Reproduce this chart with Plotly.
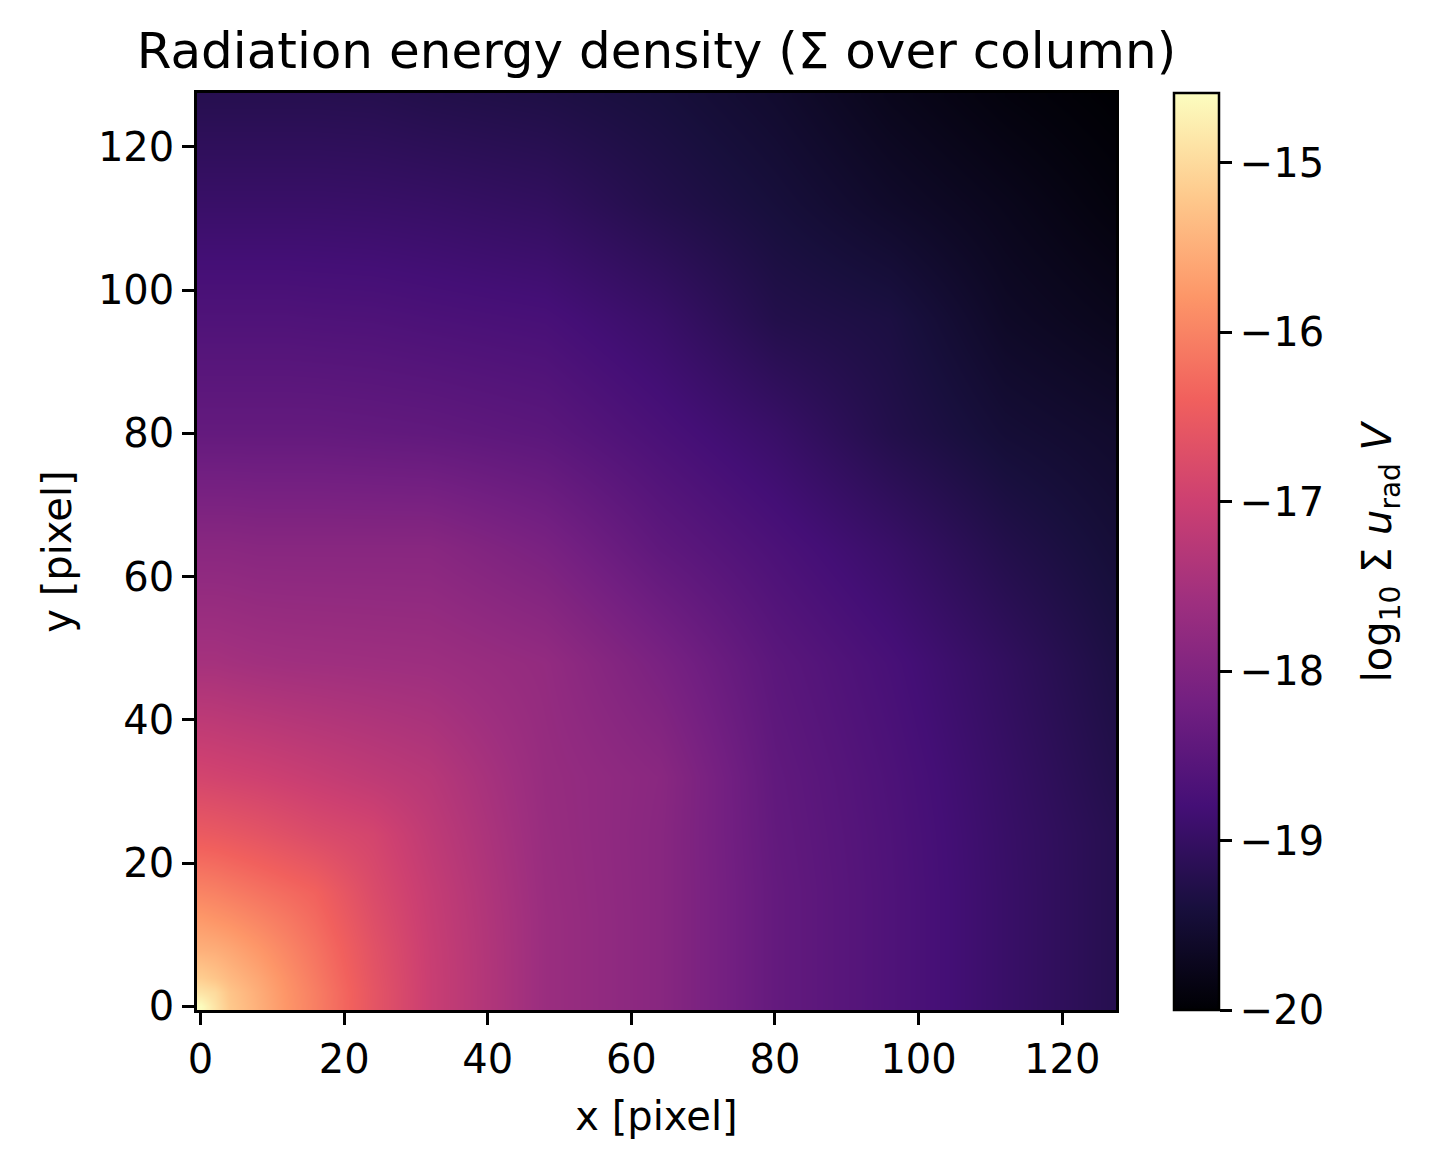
import plotly.graph_objects as go

xs = [0, 2, 4, 8, 12, 16, 24, 32, 48, 64, 80, 96, 112, 127]
ys = [0, 2, 4, 8, 12, 16, 24, 32, 48, 64, 80, 96, 112, 127]

# log10 sum u_rad V, one row per y in ys
row_y0 = [-14.60, -14.90, -15.20, -15.50, -15.80, -16.05, -16.60, -17.05, -17.65, -17.90, -18.38, -18.65, -18.95, -19.20]
row_y2 = [-14.90, -15.00, -15.25, -15.53, -15.82, -16.06, -16.60, -17.05, -17.65, -17.90, -18.38, -18.65, -18.95, -19.20]
row_y4 = [-15.15, -15.25, -15.38, -15.60, -15.86, -16.10, -16.62, -17.05, -17.65, -17.90, -18.38, -18.65, -18.95, -19.20]
row_y8 = [-15.50, -15.53, -15.60, -15.78, -15.98, -16.18, -16.66, -17.06, -17.65, -17.90, -18.38, -18.65, -18.95, -19.20]
row_y12 = [-15.75, -15.80, -15.85, -15.98, -16.12, -16.28, -16.72, -17.08, -17.65, -17.90, -18.38, -18.65, -18.95, -19.20]
row_y16 = [-16.00, -16.03, -16.08, -16.18, -16.28, -16.38, -16.78, -17.10, -17.66, -17.90, -18.38, -18.65, -18.95, -19.20]
row_y24 = [-16.50, -16.52, -16.55, -16.62, -16.70, -16.78, -16.90, -17.18, -17.68, -17.90, -18.40, -18.66, -18.96, -19.20]
row_y32 = [-16.90, -16.92, -16.94, -16.98, -17.03, -17.08, -17.18, -17.28, -17.70, -17.88, -18.42, -18.68, -18.98, -19.25]
row_y48 = [-17.50, -17.50, -17.52, -17.55, -17.57, -17.58, -17.60, -17.62, -17.75, -18.10, -18.50, -18.75, -19.05, -19.33]
row_y64 = [-17.88, -17.88, -17.88, -17.90, -17.90, -17.90, -17.90, -17.90, -18.10, -18.45, -18.70, -18.95, -19.25, -19.45]
row_y80 = [-18.38, -18.38, -18.38, -18.38, -18.38, -18.38, -18.40, -18.42, -18.50, -18.72, -18.95, -19.25, -19.47, -19.57]
row_y96 = [-18.65, -18.65, -18.65, -18.65, -18.65, -18.66, -18.67, -18.70, -18.75, -18.95, -19.25, -19.35, -19.63, -19.75]
row_y112 = [-18.95, -18.95, -18.95, -18.95, -18.95, -18.95, -18.96, -18.98, -19.05, -19.25, -19.42, -19.60, -19.75, -19.90]
row_y127 = [-19.20, -19.20, -19.20, -19.20, -19.20, -19.20, -19.21, -19.25, -19.30, -19.40, -19.55, -19.75, -19.90, -20.00]

z = [row_y0, row_y2, row_y4, row_y8, row_y12, row_y16, row_y24, row_y32,
     row_y48, row_y64, row_y80, row_y96, row_y112, row_y127]

cbar_ticks = [-20, -19, -18, -17, -16, -15]
axis_ticks = [0, 20, 40, 60, 80, 100, 120]

font = 'DejaVu Sans'
fsize = 40

fig = go.Figure()
fig.add_trace(go.Heatmap(
    x=xs, y=ys, z=z,
    zsmooth='best',
    colorscale='Magma',
    zmin=-20, zmax=-14.59,
    colorbar=dict(
        x=1.063, xanchor='left', xpad=0, ypad=0,
        y=0.5, yanchor='middle', len=1,
        thickness=45,
        outlinecolor='black', outlinewidth=2.5,
        tickvals=cbar_ticks,
        ticktext=['\u2212' + str(abs(t)) for t in cbar_ticks],
        ticks='outside', ticklen=12, tickwidth=2.5, tickcolor='black',
        tickfont=dict(family=font, size=fsize, color='black'),
    ),
))

# colorbar label as a rotated annotation so it can sit where the reference has it
fig.add_annotation(
    text='log<sub>10</sub> \u03a3 <i>u</i><sub>rad</sub> <i>V</i>',
    xref='paper', yref='paper', x=1.287, y=0.5,
    xanchor='center', yanchor='middle', textangle=-90, showarrow=False,
    font=dict(family=font, size=fsize, color='black'),
)

axis_style = dict(
    range=[-0.5, 127.5],
    tickvals=axis_ticks,
    ticks='outside', ticklen=12, tickwidth=2.5, tickcolor='black',
    showline=True, linecolor='black', linewidth=2.5, mirror=True,
    showgrid=False, zeroline=False,
    tickfont=dict(family=font, size=fsize, color='black'),
)

fig.update_layout(
    width=1414, height=1154,
    margin=dict(l=189, r=306, t=85, b=152),
    paper_bgcolor='white', plot_bgcolor='white',
    title=dict(text='Radiation energy density (\u03a3 over column)',
               x=0.5, xref='paper', xanchor='center',
               y=1 - 42 / 1154, yref='container', yanchor='middle',
               font=dict(family=font, size=50, color='black')),
    xaxis=dict(axis_style, title=dict(text='x [pixel]', standoff=22,
                                      font=dict(family=font, size=fsize, color='black'))),
    yaxis=dict(axis_style, title=dict(text='y [pixel]', standoff=14,
                                      font=dict(family=font, size=fsize, color='black'))),
)

fig.write_html('out.html')
